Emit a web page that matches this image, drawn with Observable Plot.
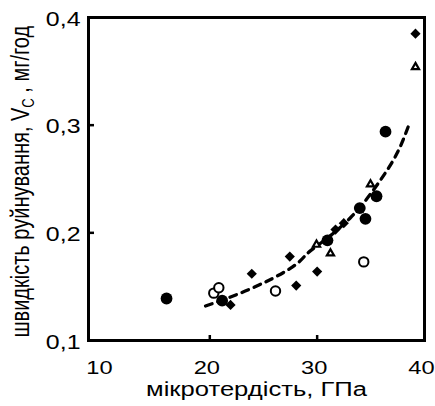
<!DOCTYPE html>
<html>
<head>
<meta charset="utf-8">
<script src="https://cdn.jsdelivr.net/npm/d3@7"></script>
<script src="https://cdn.jsdelivr.net/npm/@observablehq/plot@0.6"></script>
<style>
  html, body { margin: 0; padding: 0; background: #fff; }
  svg { font-family: "Liberation Sans", Arial, sans-serif; }
</style>
</head>
<body>
<div id="chart"></div>
<script>
// Filled circles
const fcX = [15.97, 21.15, 30.96, 33.97, 34.5, 35.53, 36.37];
const fcY = [0.139, 0.137, 0.193, 0.223, 0.213, 0.234, 0.294];
// Filled diamonds
const fdX = [21.93, 23.91, 27.45, 28.05, 30.0, 31.71, 32.48, 39.16];
const fdY = [0.133, 0.162, 0.178, 0.151, 0.164, 0.203, 0.209, 0.385];
// Open circles
const ocX = [20.37, 20.84, 26.12, 34.34];
const ocY = [0.144, 0.149, 0.146, 0.173];
// Open triangles
const otX = [29.94, 31.24, 34.97, 39.16];
const otY = [0.189, 0.181, 0.245, 0.354];
// Dashed trend curve
const curveX = [19.6, 23.8, 27.5, 28.9, 30.0, 33.1, 35.9, 37.5, 38.5];
const curveY = [0.132, 0.148, 0.167, 0.179, 0.188, 0.214, 0.249, 0.275, 0.299];

const xTicks = [10, 20, 30, 40];
const yTicks = [0.1, 0.2, 0.3, 0.4];
const xInnerTicks = [20, 30];
const yInnerTicks = [0.2, 0.3];
const xTitle = "мікротердість, ГПа";
const yTitleMain = "швидкість руйнування, V";
const yTitleSub = "C";
const yTitleRest = " , мг/год";

const zip = (xs, ys) => xs.map((x, i) => ({x, y: ys[i]}));

const W = 435, H = 406, ML = 88, MR = 11, MT = 17, MB = 66;
const STRETCH = 1.28; // reference text is horizontally stretched

const plot = Plot.plot({
  width: W, height: H,
  marginLeft: ML, marginRight: MR, marginTop: MT, marginBottom: MB,
  style: {fontFamily: '"Liberation Sans", Arial, sans-serif', background: "#fff", color: "#000"},
  x: {domain: [8.7, 40.0]},
  y: {domain: [0.1, 0.4]},
  marks: [
    Plot.axisX({ticks: xTicks, tickSize: 0, tickPadding: 20, fontSize: 18.5, label: null, dx: -3, tickFormat: d => String(d)}),
    Plot.axisY({ticks: yTicks, tickSize: 0, tickPadding: 8, fontSize: 19.5, label: null, dy: 2, tickFormat: d => d.toFixed(1).replace(".", ",")}),
    Plot.tickX(xInnerTicks, {x: d => d, stroke: "#000", strokeWidth: 2.5, insetTop: (H - MT - MB) - 5}),
    Plot.tickY(yInnerTicks, {y: d => d, stroke: "#000", strokeWidth: 2.5, insetRight: (W - ML - MR) - 6}),
    Plot.line(zip(curveX, curveY), {x: "x", y: "y", curve: "natural", stroke: "#000", strokeWidth: 3.3, strokeDasharray: "7,6"}),
    Plot.dot(zip(fcX, fcY), {x: "x", y: "y", r: 5.9, fill: "#000", symbol: "circle"}),
    Plot.dot(zip(fdX, fdY), {x: "x", y: "y", r: 4.6, fill: "#000", symbol: "diamond2"}),
    Plot.dot(zip(ocX, ocY), {x: "x", y: "y", r: 4.7, fill: "#fff", stroke: "#000", strokeWidth: 2, symbol: "circle"}),
    Plot.dot(zip(otX, otY), {x: "x", y: "y", r: 3.4, fill: "#fff", stroke: "#000", strokeWidth: 2.2, symbol: "triangle2"}),
    Plot.frame({stroke: "#000", strokeWidth: 3}),
    Plot.text([xTitle], {text: d => d, frameAnchor: "bottom", dy: 55, fontSize: 20, fill: "#000"}),
    Plot.text([yTitleMain], {text: d => d, frameAnchor: "bottom-left", rotate: -90, textAnchor: "start", dx: -60, dy: -3, fontSize: 20, fill: "#000"})
  ]
});
document.getElementById("chart").appendChild(plot);

const svg = d3.select(plot);
// Subscript in the y title
svg.selectAll("text").each(function() {
  if (this.textContent === yTitleMain) {
    const sel = d3.select(this);
    sel.text(null);
    sel.append("tspan").text(yTitleMain);
    sel.append("tspan").attr("font-size", 13).attr("dy", 4).text(yTitleSub);
    sel.append("tspan").attr("dy", -4).text(yTitleRest);
  }
});
// Horizontal stretch of all texts, as in the reference
svg.selectAll("text").each(function() {
  const t = this.getAttribute("transform");
  if (t) {
    if (t.includes("rotate(")) this.setAttribute("transform", t.replace("rotate(", `scale(${STRETCH},1) rotate(`));
    else this.setAttribute("transform", `${t} scale(${STRETCH},1)`);
  }
});
</script>
</body>
</html>
